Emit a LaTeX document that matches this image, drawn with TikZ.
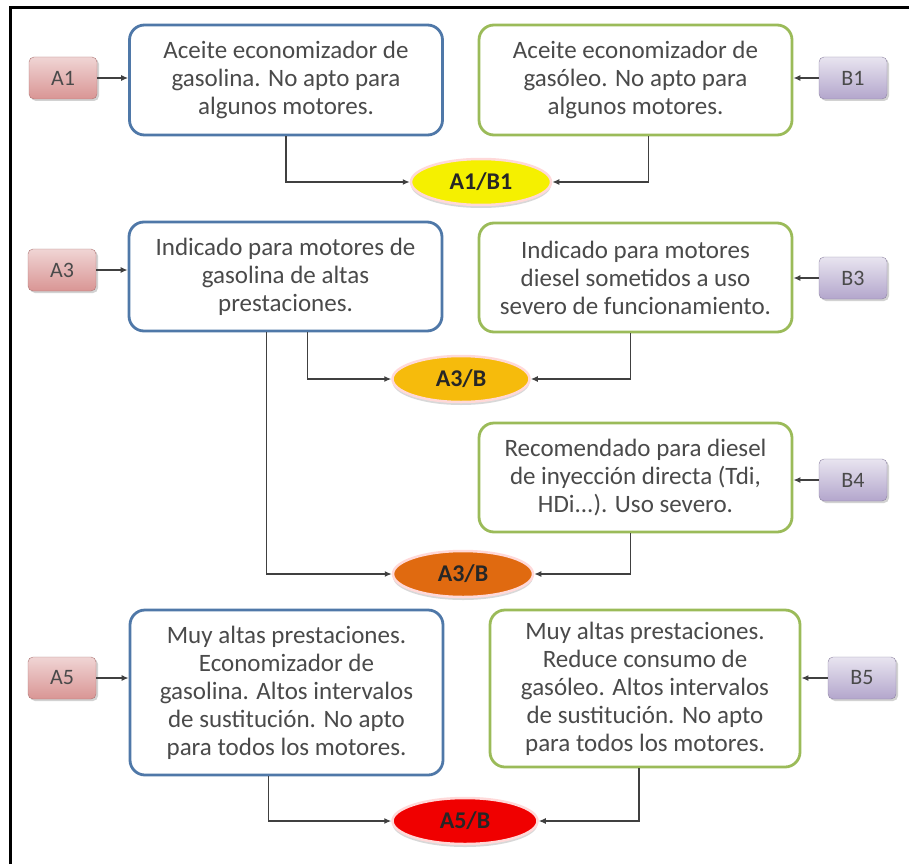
\documentclass[tikz,border=0pt]{standalone}
\usepackage[svgnames, dvipsnames]{xcolor}
\usepackage{fontspec}
\setmainfont{Carlito}
\usetikzlibrary{calc, arrows.meta, shapes.geometric, shadows}

\definecolor{boxblue}{HTML}{4F78A8}
\definecolor{boxgreen}{HTML}{9BBB59}
\definecolor{tagred}{HTML}{D99594}
\definecolor{taglilac}{HTML}{B3A6CC}
\definecolor{ovyellow}{HTML}{F5F000}
\definecolor{ovamber}{HTML}{F6BB0C}
\definecolor{ovorange}{HTML}{E06A10}
\definecolor{ovred}{HTML}{F00000}
\definecolor{txtgray}{HTML}{4A4A4A}

\begin{document}
\begin{tikzpicture}[x=1pt, y=-1pt, font=\fontsize{25}{28}\selectfont,
    boxA/.style={draw=boxblue, rounded corners=15pt, line width=2.8pt, fill=white, text=txtgray, align=center, minimum width=313pt},
    boxB/.style={boxA, draw=boxgreen},
    tagA/.style={rounded corners=5pt, top color=tagred!40, bottom color=tagred, draw=tagred!80!black, line width=0.4pt, minimum width=68pt, minimum height=42pt, text=txtgray, font=\fontsize{22}{24}\selectfont, drop shadow={opacity=0.35, shadow xshift=2pt, shadow yshift=-2pt}},
    tagB/.style={tagA, top color=taglilac!30, bottom color=taglilac, draw=taglilac!80!black},
    oval/.style={ellipse, draw=white!85!red, line width=2.5pt, minimum width=140pt, minimum height=46pt, inner sep=0pt, font=\fontsize{24}{26}\selectfont\bfseries, text=black!85, drop shadow={opacity=0.3, shadow xshift=0pt, shadow yshift=-3pt}},
    link/.style={draw=black!75, line width=1.3pt, -{Latex[length=7pt, width=6pt]}}
    ]
    \useasboundingbox (0,0) rectangle (909,864);
    \fill[white] (0,0) rectangle (909,864);
    \draw[line width=3pt] (10,864) -- (10,8) -- (909,8);

    % row 1
    \node[tagA] (A1) at (63,78) {A1};
    \node[boxA, minimum height=110pt] (boxA1) at (286,80) {Aceite economizador de\\gasolina. No apto para\\algunos motores.};
    \node[boxB, minimum height=110pt] (boxB1) at (635.5,80) {Aceite economizador de\\gasóleo. No apto para\\algunos motores.};
    \node[tagB] (B1) at (853,78) {B1};
    \node[oval, fill=ovyellow] (e1) at (481,182) {A1/B1};

    % row 2
    \node[tagA] (A3) at (62,270) {A3};
    \node[boxA, minimum height=109pt] (boxA3) at (285.5,276.5) {Indicado para motores de\\gasolina de altas\\prestaciones.};
    \node[boxB, minimum height=109pt] (boxB3) at (635.5,277.5) {Indicado para motores\\diesel sometidos a uso\\severo de funcionamiento.};
    \node[tagB] (B3) at (853,278) {B3};
    \node[oval, fill=ovamber, minimum width=137pt] (e2) at (461,379) {A3/B};

    % row 3
    \node[boxB, minimum height=109pt] (boxB4) at (635.5,477.5) {Recomendado para diesel\\de inyección directa (Tdi,\\HDi...). Uso severo.};
    \node[tagB] (B4) at (853,480) {B4};
    \node[oval, fill=ovorange] (e3) at (463,574) {A3/B};

    % row 4
    \node[tagA] (A5) at (62,678) {A5};
    \node[boxA, minimum height=165pt] (boxA5) at (286.5,692.5) {Muy altas prestaciones.\\Economizador de\\gasolina. Altos intervalos\\de sustitución. No apto\\para todos los motores.};
    \node[boxB, minimum height=157pt, minimum width=310pt] (boxB5) at (645,688.5) {Muy altas prestaciones.\\Reduce consumo de\\gasóleo. Altos intervalos\\de sustitución. No apto\\para todos los motores.};
    \node[tagB] (B5) at (862,678) {B5};
    \node[oval, fill=ovred, minimum width=145pt] (e4) at (465,821) {A5/B};

    % arrows
    \draw[link] (A1.east) -- (A1.east -| boxA1.west);
    \draw[link] (A3.east) -- (A3.east -| boxA3.west);
    \draw[link] (A5.east) -- (A5.east -| boxA5.west);
    \draw[link] (B1.west) -- (B1.west -| boxB1.east);
    \draw[link] (B3.west) -- (B3.west -| boxB3.east);
    \draw[link] (B4.west) -- (B4.west -| boxB4.east);
    \draw[link] (B5.west) -- (B5.west -| boxB5.east);
    \draw[link] (boxA1.south) |- (e1.west);
    \draw[link] ([xshift=13pt]boxB1.south) |- (e1.east);
    \draw[link] ([xshift=22pt]boxA3.south) |- (e2.west);
    \draw[link] ([xshift=-5pt]boxB3.south) |- (e2.east);
    \draw[link] ([xshift=-19pt]boxA3.south) |- (e3.west);
    \draw[link] ([xshift=-5pt]boxB4.south) |- (e3.east);
    \draw[link] ([xshift=-18pt]boxA5.south) |- (e4.west);
    \draw[link] ([xshift=-6pt]boxB5.south) |- (e4.east);
\end{tikzpicture}
\end{document}
